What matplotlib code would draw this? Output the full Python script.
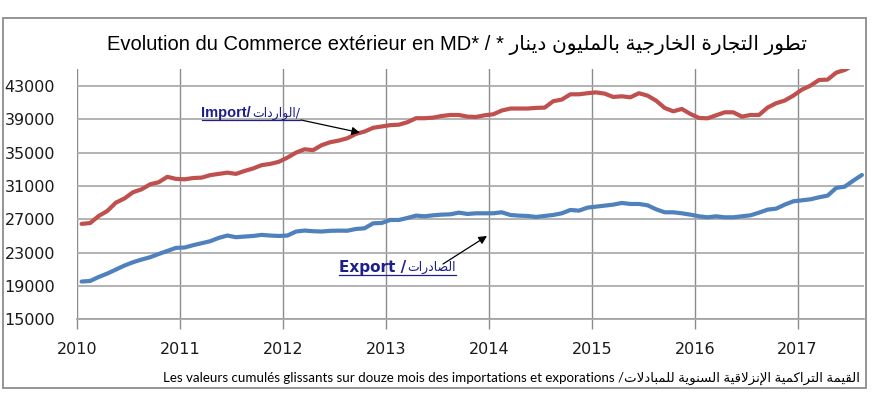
import matplotlib
matplotlib.use("Agg")
import matplotlib.pyplot as plt
from matplotlib.lines import Line2D
from matplotlib.patches import Rectangle
from matplotlib import font_manager
import numpy as np

# ---------------- data (monthly, rolling 12-month cumulative, MD) ----------------
start_year = 2010
imports = [26450, 26550, 27400, 28000, 29000, 29500, 30250, 30600, 31200, 31450,
           32100, 31850, 31800, 31950, 32000, 32300, 32450, 32600, 32450, 32800,
           33100, 33500, 33650, 33900, 34400, 35000, 35400, 35300, 35900, 36250,
           36450, 36730, 37250, 37530, 37980, 38140, 38300, 38350, 38650, 39130,
           39130, 39200, 39400, 39520, 39520, 39320, 39280, 39480, 39600, 40050,
           40290, 40290, 40290, 40370, 40400, 41170, 41370, 42000, 42000, 42130,
           42230, 42080, 41680, 41760, 41640, 42130, 41840, 41240, 40360, 39960,
           40240, 39640, 39160, 39120, 39480, 39840, 39840, 39320, 39520, 39520,
           40410, 40930, 41250, 41840, 42560, 43040, 43720, 43760, 44600, 44920,
           45500, 46000]
exports = [19530, 19600, 20080, 20490, 20970, 21450, 21850, 22170, 22450, 22840,
           23200, 23570, 23610, 23890, 24130, 24370, 24770, 25050, 24850, 24930,
           25000, 25130, 25050, 25000, 25050, 25530, 25650, 25570, 25530, 25620,
           25640, 25630, 25840, 25920, 26520, 26560, 26920, 26920, 27160, 27440,
           27360, 27480, 27560, 27600, 27800, 27640, 27720, 27720, 27720, 27840,
           27520, 27440, 27400, 27280, 27400, 27520, 27720, 28120, 28040, 28400,
           28520, 28640, 28760, 28960, 28840, 28840, 28680, 28200, 27840, 27840,
           27720, 27560, 27360, 27240, 27360, 27240, 27240, 27360, 27480, 27800,
           28160, 28280, 28760, 29160, 29280, 29400, 29640, 29840, 30760, 30920,
           31640, 32320]
year_ticks = [2010, 2011, 2012, 2013, 2014, 2015, 2016, 2017]
value_ticks = [15000, 19000, 23000, 27000, 31000, 35000, 39000, 43000]

title_latin = "Evolution du Commerce extérieur en MD* / "
title_arabic = "تطور التجارة الخارجية بالمليون دينار *"
import_latin = "Import/"
import_arabic = "الواردات"
export_latin = "Export /"
export_arabic = "الصادرات"
footer_latin = "Les valeurs cumulés glissants sur douze mois des importations et exporations /"
footer_arabic = "القيمة التراكمية الإنزلاقية السنوية للمبادلات"

# ---------------- minimal Arabic shaping (presentation forms, visual order) ----------------
_DUAL = {'ب': 0xFE8F, 'ت': 0xFE95, 'ج': 0xFE9D, 'خ': 0xFEA5, 'س': 0xFEB1,
         'ص': 0xFEB9, 'ط': 0xFEC1, 'ق': 0xFED5, 'ك': 0xFED9, 'ل': 0xFEDD,
         'م': 0xFEE1, 'ن': 0xFEE5, 'ي': 0xFEF1}
_RIGHT = {'ا': 0xFE8D, 'إ': 0xFE87, 'ة': 0xFE93, 'د': 0xFEA9, 'ر': 0xFEAD,
          'ز': 0xFEAF, 'و': 0xFEED}
_LAMALEF = {'ا': 0xFEFB, 'إ': 0xFEF9}


def shape_arabic(s):
    toks = []
    i = 0
    while i < len(s):
        c = s[i]
        if c == 'ل' and i + 1 < len(s) and s[i + 1] in _LAMALEF:
            toks.append(('LA', _LAMALEF[s[i + 1]]))
            i += 2
            continue
        if c in _DUAL:
            toks.append(('D', _DUAL[c]))
        elif c in _RIGHT:
            toks.append(('R', _RIGHT[c]))
        else:
            toks.append(('X', c))
        i += 1
    out = []
    for j, (t, v) in enumerate(toks):
        if t == 'X':
            out.append(v)
            continue
        prev_j = j > 0 and toks[j - 1][0] == 'D'
        next_j = t == 'D' and j + 1 < len(toks) and toks[j + 1][0] in ('D', 'R', 'LA')
        if t == 'D':
            if prev_j and next_j:
                code = v + 3
            elif prev_j:
                code = v + 1
            elif next_j:
                code = v + 2
            else:
                code = v
        else:
            code = v + 1 if prev_j else v
        out.append(chr(code))
    return ''.join(out)[::-1]


# ---------------- fonts ----------------
avail = {f.name for f in font_manager.fontManager.ttflist}
def fam(*names):
    lst = [n for n in names if n in avail]
    if 'DejaVu Sans' not in lst:
        lst.append('DejaVu Sans')
    return lst

plt.rcParams['font.family'] = ['DejaVu Sans']

W, H = 874, 398
fig = plt.figure(figsize=(W / 100, H / 100), dpi=100)
fig.patch.set_facecolor('white')

x0, x1 = 77.3, 864.0
y_top, y_bot = 69.3, 319.3
ax = fig.add_axes([x0 / W, 1 - y_bot / H, (x1 - x0) / W, (y_bot - y_top) / H])

months = np.arange(len(imports))
xs = start_year + (months + 0.5) / 12.0

ax.plot(xs, imports, color='#c0504d', lw=3.0, solid_joinstyle='round', solid_capstyle='round', zorder=3)
ax.plot(xs, exports, color='#4f81bd', lw=3.0, solid_joinstyle='round', solid_capstyle='round', zorder=3)

ax.set_xlim(2010, 2010 + (x1 - x0) / 102.9)
ax.set_ylim(15000, 45000)
ax.set_yticks(value_ticks)
ax.set_yticklabels([str(v) for v in value_ticks])
ax.set_xticks(year_ticks)
ax.set_xticklabels([str(y) for y in year_ticks])

for s in ax.spines.values():
    s.set_visible(False)
ax.spines['bottom'].set_visible(True)
ax.spines['bottom'].set_color('#a0a0a0')
ax.spines['bottom'].set_linewidth(1.2)

ax.grid(axis='y', color='#a6a6a6', lw=1.2, zorder=0)
ax.grid(axis='x', color='#8c8c8c', lw=1.0, zorder=0)
ax.tick_params(axis='y', length=0, pad=16, labelsize=11.5, labelcolor='#1a1a1a')
ax.tick_params(axis='x', length=7, width=1.0, color='#8c8c8c', direction='out', pad=9,
               labelsize=11.5, labelcolor='#1a1a1a')

# title
fig.text(457 / W, 1 - 45 / H, title_latin + shape_arabic(title_arabic),
         ha='center', va='center', fontsize=14.5, family=fam('Liberation Sans'), color='black')

navy = '#1f1f8a'
def px2data(px, py):
    return (2010 + (px - x0) / 102.9, 15000 + (y_bot - py) / (y_bot - y_top) * 30000)

# labels: bold latin part followed by regular arabic part
lab_imp_a = ax.text(*px2data(201.5, 113), import_latin, ha='left', va='center', fontsize=10.5,
                    fontweight='bold', color=navy, family=fam('Liberation Sans Narrow', 'Liberation Sans'), zorder=5)
lab_exp_a = ax.text(*px2data(339, 267.5), export_latin, ha='left', va='center', fontsize=11,
                    fontweight='bold', color=navy, family=fam('DejaVu Sans'), zorder=5)

arrow_kw = dict(arrowstyle='-|>', color='black', lw=0.9, mutation_scale=12, shrinkA=0, shrinkB=0)
ax.annotate('', xy=px2data(360, 132.7), xytext=px2data(301, 120), arrowprops=arrow_kw, zorder=6)
ax.annotate('', xy=px2data(487, 236), xytext=px2data(443, 264), arrowprops=arrow_kw, zorder=6)

fig.text(860 / W, 1 - 378 / H, footer_latin + shape_arabic(footer_arabic),
         ha='right', va='center', fontsize=9.6, family=fam('Lato', 'Open Sans'), color='black')

fig.add_artist(Rectangle((2.5 / W, 1 - 388 / H), (866 - 2.5) / W, (388 - 18) / H,
                         transform=fig.transFigure, fill=False, edgecolor='#8c8c8c', lw=1.3))

fig.canvas.draw()
r = fig.canvas.get_renderer()
parts = []
for t_a, arabic_txt, suffix in ((lab_imp_a, import_arabic, '/'), (lab_exp_a, export_arabic, '')):
    bb = t_a.get_window_extent(renderer=r)
    t_b = fig.text((bb.x1 + 1) / W, (bb.y0 + bb.y1) / 2 / H, shape_arabic(arabic_txt) + suffix,
                   ha='left', va='center', fontsize=9, color=navy, family=fam('DejaVu Sans'))
    parts.append((t_a, t_b))

fig.canvas.draw()
for t_a, t_b in parts:
    ba = t_a.get_window_extent(renderer=r)
    bb = t_b.get_window_extent(renderer=r)
    yline = ba.y0 + 0.5
    fig.add_artist(Line2D([ba.x0 / W, bb.x1 / W], [yline / H, yline / H],
                          transform=fig.transFigure, color=navy, lw=0.9))

fig.savefig('out.png', dpi=100, facecolor='white')
